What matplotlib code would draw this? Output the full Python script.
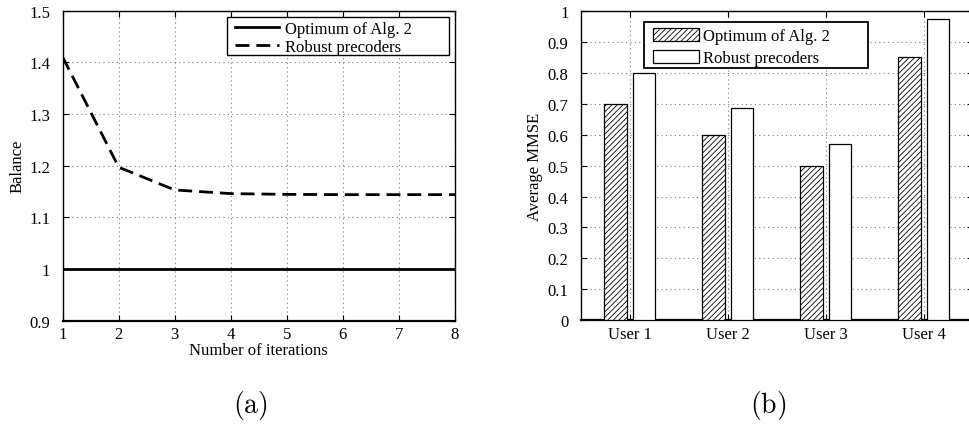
import matplotlib
matplotlib.use("Agg")
import matplotlib.pyplot as plt
import matplotlib.transforms as mtransforms
from matplotlib.patches import Rectangle
import numpy as np

plt.rcParams['font.family'] = ['Liberation Serif', 'DejaVu Serif']
plt.rcParams['mathtext.fontset'] = 'cm'
plt.rcParams['hatch.linewidth'] = 0.6

# Left panel data
iterations = [1, 2, 3, 4, 5, 6, 7, 8]
optimum_balance = [1.0, 1.0, 1.0, 1.0, 1.0, 1.0, 1.0, 1.0]
robust_balance = [1.41, 1.197, 1.153, 1.146, 1.1445, 1.144, 1.144, 1.144]

# Right panel data
users = ["User 1", "User 2", "User 3", "User 4"]
optimum_mmse = [0.70, 0.60, 0.50, 0.85]
robust_mmse = [0.80, 0.685, 0.571, 0.973]

W, H = 970, 427
fig = plt.figure(figsize=(W / 100, H / 100), dpi=100)

def frac(x0, y0, x1, y1):
    return [x0 / W, 1 - y1 / H, (x1 - x0) / W, (y1 - y0) / H]

def fig_pt(x, y):
    return (x / W, 1 - y / H)

fs = 12

# ---- Left
ax1 = fig.add_axes(frac(62.7, 11.7, 455, 321.7))
ax1.plot(iterations, optimum_balance, color='black', lw=2.0, label='Optimum of Alg. 2')
ax1.plot(iterations, robust_balance, color='black', lw=2.0, ls=(0, (5, 2.5)), label='Robust precoders')
ax1.set_xlim(1, 8)
ax1.set_ylim(0.9, 1.5)
ax1.set_xticks(range(1, 9))
ax1.set_yticks([0.9, 1.0, 1.1, 1.2, 1.3, 1.4, 1.5])
ax1.set_yticklabels(['0.9', '1', '1.1', '1.2', '1.3', '1.4', '1.5'])
ax1.grid(True, ls=(0, (1, 3)), color='#777777', lw=0.8)
ax1.tick_params(direction='in', top=True, right=True, labelsize=fs, length=4)
ax1.tick_params(axis='y', pad=9)
ax1.tick_params(axis='x', pad=4)
ax1.set_xlabel('Number of iterations', fontsize=fs, labelpad=0)
ax1.set_ylabel('Balance', fontsize=fs, labelpad=3)
leg1 = ax1.legend(loc='upper left', bbox_to_anchor=fig_pt(235, 22), bbox_transform=fig.transFigure,
                  fontsize=fs, frameon=False, borderaxespad=0, borderpad=0,
                  handlelength=2.64, labelspacing=0.12, handletextpad=0.36)
ax1.add_patch(Rectangle(fig_pt(227, 56), (449 - 227) / W, (56 - 18) / H,
                        transform=fig.transFigure, facecolor='white', edgecolor='black',
                        lw=1.0, zorder=4.5))
leg1.set_zorder(5)
for s in ax1.spines.values():
    s.set_linewidth(1.0)
ax1.spines['bottom'].set_linewidth(1.6)

# ---- Right
ax2 = fig.add_axes(frac(581, 11.7, 973, 321.4))
x = np.arange(1, len(users) + 1)
bw = 0.23
ax2.bar(x - 0.148, optimum_mmse, bw, facecolor='white', edgecolor='black', hatch='//////',
        lw=0.9, label='Optimum of Alg. 2', zorder=3)
ax2.bar(x + 0.145, robust_mmse, bw, facecolor='white', edgecolor='black',
        lw=0.9, label='Robust precoders', zorder=3)
ax2.set_xlim(0.5, 4.5)
ax2.set_ylim(0, 1)
ax2.set_xticks(x)
ax2.set_xticklabels(users)
offset = mtransforms.ScaledTranslation(-8 / 100, 0, fig.dpi_scale_trans)
for lab in ax2.get_xticklabels():
    lab.set_transform(lab.get_transform() + offset)
ax2.set_yticks(np.arange(0, 1.01, 0.1))
ax2.set_yticklabels(['0', '0.1', '0.2', '0.3', '0.4', '0.5', '0.6', '0.7', '0.8', '0.9', '1'])
ax2.grid(True, ls=(0, (1, 3)), color='#777777', lw=0.8, zorder=0)
ax2.set_axisbelow(True)
ax2.tick_params(direction='in', top=True, right=True, labelsize=fs, length=4)
ax2.tick_params(axis='y', pad=9)
ax2.tick_params(axis='x', pad=4)
ax2.set_ylabel('Average MMSE', fontsize=fs, labelpad=3)
leg2 = ax2.legend(loc='upper left', bbox_to_anchor=fig_pt(653, 28.5), bbox_transform=fig.transFigure,
                  fontsize=fs, frameon=False, borderaxespad=0, borderpad=0,
                  handlelength=2.76, handleheight=0.9, labelspacing=0.32, handletextpad=0.25)
ax2.add_patch(Rectangle(fig_pt(644, 69), (868 - 644) / W, (69 - 23) / H,
                        transform=fig.transFigure, facecolor='white', edgecolor='black',
                        lw=1.3, zorder=4.5))
leg2.set_zorder(5)
for s in ax2.spines.values():
    s.set_linewidth(1.0)
ax2.spines['bottom'].set_linewidth(1.6)

# Panel labels
fig.text(250 / W, 1 - 406 / H, r'$\mathrm{(a)}$', fontsize=20, ha='center', va='center')
fig.text(768 / W, 1 - 406 / H, r'$\mathrm{(b)}$', fontsize=20, ha='center', va='center')

fig.savefig('out.png', dpi=100)
